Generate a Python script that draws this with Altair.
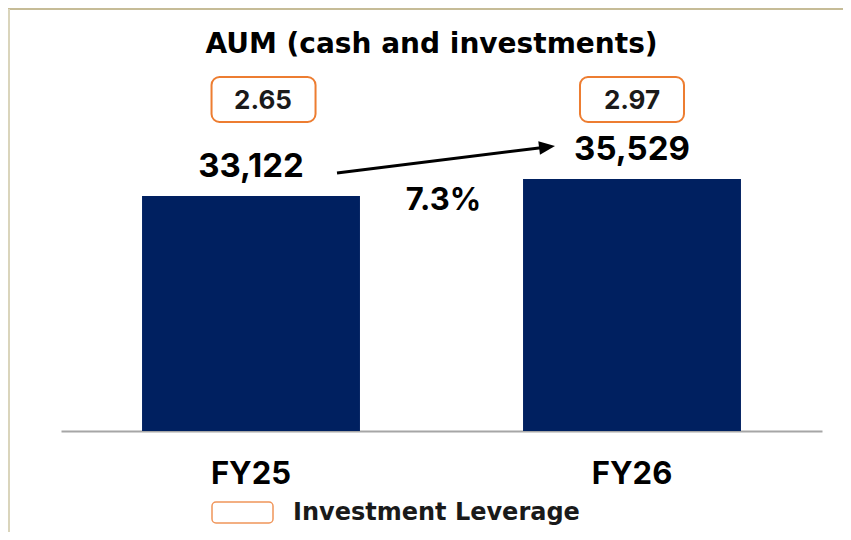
import altair as alt
import pandas as pd

categories = ["FY25", "FY26"]
aum = [33122, 35529]
leverage = [2.65, 2.97]
title_text = "AUM (cash and investments)"
legend_text = "Investment Leverage"
growth_text = f"{(aum[1] / aum[0] - 1) * 100:.1f}%"

NAVY = "#002060"
ORANGE = "#ED7D31"
FONT = "Inter"
WIDE = "DejaVu Sans"

df = pd.DataFrame({"cat": categories, "aum": aum, "lev": leverage})
one = pd.DataFrame({"k": [0]})

x_enc = alt.X(
    "cat:N",
    sort=categories,
    scale=alt.Scale(paddingInner=0.428, paddingOuter=0.2127),
    axis=alt.Axis(
        title=None, labelAngle=0, ticks=False, tickSize=0,
        domainColor="#A6A6A6", domainWidth=2,
        labelFont=FONT, labelFontSize=31, labelFontWeight="bold",
        labelColor="#000000", labelPadding=52, labelBaseline="alphabetic",
    ),
)
y_enc = alt.Y("aum:Q", scale=alt.Scale(domain=[0, 59620], nice=False, zero=True), axis=None)

base = alt.Chart(df)

bars = base.mark_bar(color=NAVY).encode(x=x_enc, y=y_enc)

values = base.mark_text(
    dy=-19, baseline="alphabetic", font=FONT, fontSize=33, fontWeight="bold", color="#000000"
).encode(x=x_enc, y=y_enc, text=alt.Text("aum:Q", format=","))

box_style = dict(width=104, cornerRadius=8, fill="white", stroke=ORANGE, strokeWidth=2)
box1 = base.transform_filter(alt.datum.cat == categories[0]).mark_bar(**box_style).encode(
    x=x_enc, xOffset=alt.value(121.5), y=alt.value(69), y2=alt.value(114)
)
box2 = base.transform_filter(alt.datum.cat == categories[1]).mark_bar(**box_style).encode(
    x=x_enc, y=alt.value(69), y2=alt.value(114)
)
lev_style = dict(baseline="alphabetic", font=FONT, fontSize=26, fontWeight="bold", color="#1a1a1a")
lev1 = base.transform_filter(alt.datum.cat == categories[0]).mark_text(dx=12, **lev_style).encode(
    x=x_enc, y=alt.value(101), text=alt.Text("lev:Q", format=".2f")
)
lev2 = base.transform_filter(alt.datum.cat == categories[1]).mark_text(**lev_style).encode(
    x=x_enc, y=alt.value(101), text=alt.Text("lev:Q", format=".2f")
)

title = alt.Chart(one).mark_text(
    text=title_text, baseline="alphabetic", align="center", font=WIDE, fontSize=28,
    fontWeight="bold", color="#000000"
).encode(x=alt.value(370.5), y=alt.value(45))

growth = alt.Chart(one).mark_text(
    text=growth_text, baseline="alphabetic", align="center", font=FONT, fontSize=31,
    fontWeight="bold", color="#000000"
).encode(x=alt.value(382.5), y=alt.value(202))

arrow_line = alt.Chart(one).mark_rule(color="#000000", strokeWidth=3).encode(
    x=alt.value(276), y=alt.value(165), x2=alt.value(480), y2=alt.value(139.7)
)
arrow_head = alt.Chart(one).mark_point(
    shape="M-1,-0.85L1,0L-1,0.85Z", filled=True, color="#000000", opacity=1, size=256, angle=352.94
).encode(x=alt.value(486.06), y=alt.value(138.98))

legend_box = alt.Chart(one).mark_rect(
    cornerRadius=4, fill="white", stroke="#F0955A", strokeWidth=1.5
).encode(x=alt.value(151), x2=alt.value(212), y=alt.value(494), y2=alt.value(515))
legend_label = alt.Chart(one).mark_text(
    text=legend_text, baseline="alphabetic", align="left", font=WIDE, fontSize=24,
    fontWeight="bold", color="#1a1a1a"
).encode(x=alt.value(232), y=alt.value(512))

border_top = alt.Chart(one).mark_rule(color="#C6BC97", strokeWidth=2).encode(
    x=alt.value(-53), x2=alt.value(790), y=alt.value(1)
)
border_left = alt.Chart(one).mark_rule(color="#DAD5BC", strokeWidth=2).encode(
    x=alt.value(-52), y=alt.value(1), y2=alt.value(530)
)

chart = alt.layer(
    border_top, border_left, bars, values, box1, box2, lev1, lev2, title, growth,
    arrow_line, arrow_head, legend_box, legend_label
).properties(
    width=761, height=423,
    padding={"left": 53, "top": 0, "right": 21, "bottom": 101},
    autosize=alt.AutoSizeParams(type="none"),
    background="white",
).configure_view(stroke=None)

chart.save("out.html", embed_options={"renderer": "svg", "actions": False})
